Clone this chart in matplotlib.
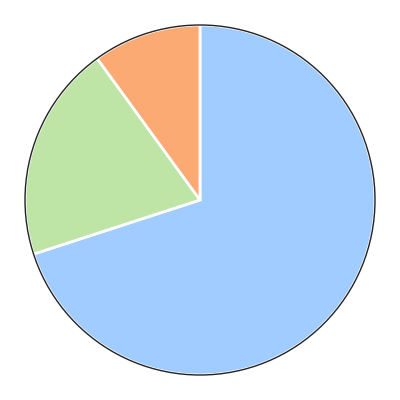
import matplotlib
matplotlib.use("Agg")
import matplotlib.pyplot as plt
from matplotlib.patches import Circle

# Valores das fatias (sentido horario a partir do topo)
labels = ["A", "B", "C"]
values = [70, 20, 10]
colors = ["#A0CCFF", "#BEE4A6", "#FCAA74"]

fig = plt.figure(figsize=(4, 4), dpi=100)
ax = fig.add_axes([0, 0, 1, 1])

ax.pie(values, colors=colors, startangle=90, counterclock=False,
       wedgeprops=dict(edgecolor="white", linewidth=2))

# Contorno externo escuro
ax.add_patch(Circle((0, 0), 1, fill=False, edgecolor="#222222", linewidth=1, zorder=5))

lim = 200 / 175
ax.set_xlim(-lim, lim)
ax.set_ylim(-lim, lim)
ax.set_aspect("equal")
ax.axis("off")

fig.savefig("out.png", dpi=100)
